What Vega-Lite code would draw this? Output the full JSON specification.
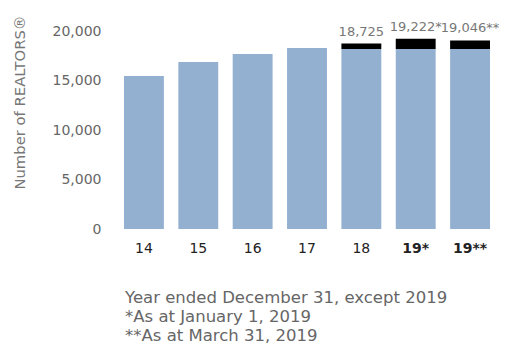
{
  "$schema": "https://vega.github.io/schema/vega-lite/v6.json",
  "autosize": "none",
  "width": 382,
  "height": 198,
  "padding": {"left": 116, "top": 31, "right": 12, "bottom": 115},
  "background": "white",
  "config": {"view": {"stroke": null}, "font": "DejaVu Sans"},
  "title": {
    "text": ["Year ended December 31, except 2019", "*As at January 1, 2019", "**As at March 31, 2019"],
    "orient": "bottom",
    "anchor": "start",
    "frame": "group",
    "dx": 9,
    "offset": 35,
    "baseline": "top",
    "font": "DejaVu Sans",
    "fontSize": 16.5,
    "fontWeight": "normal",
    "color": "#666666",
    "lineHeight": 19
  },
  "datasets": {
    "bars": [
      {"year": "14", "part": "base", "value": 15450},
      {"year": "15", "part": "base", "value": 16870},
      {"year": "16", "part": "base", "value": 17680},
      {"year": "17", "part": "base", "value": 18280},
      {"year": "18", "part": "base", "value": 18180},
      {"year": "18", "part": "extra", "value": 545},
      {"year": "19*", "part": "base", "value": 18180},
      {"year": "19*", "part": "extra", "value": 1042},
      {"year": "19**", "part": "base", "value": 18180},
      {"year": "19**", "part": "extra", "value": 866}
    ],
    "totals": [
      {"year": "18", "total": 18725, "label": "18,725"},
      {"year": "19*", "total": 19222, "label": "19,222*"},
      {"year": "19**", "total": 19046, "label": "19,046**"}
    ]
  },
  "layer": [
    {
      "data": {"name": "bars"},
      "mark": {"type": "bar"},
      "encoding": {
        "x": {
          "field": "year",
          "type": "nominal",
          "sort": ["14", "15", "16", "17", "18", "19*", "19**"],
          "scale": {"paddingInner": 0.266, "paddingOuter": 0.147},
          "axis": {
            "title": null,
            "domain": false,
            "ticks": false,
            "labelAngle": 0,
            "labelPadding": 12,
            "labelFontSize": 14,
            "labelColor": "#222222",
            "labelFont": "DejaVu Sans",
            "labelFontWeight": {"condition": {"test": "indexof(datum.label, '*') >= 0", "value": "bold"}, "value": "normal"}
          }
        },
        "y": {
          "field": "value",
          "type": "quantitative",
          "stack": "zero",
          "scale": {"domain": [0, 20000], "nice": false},
          "axis": {
            "title": "Number of REALTORS®",
            "titleAngle": -90,
            "titleX": -92,
            "titleY": 71,
            "titleAlign": "center",
            "titleBaseline": "alphabetic",
            "titleFontSize": 14.8,
            "titleFontWeight": "normal",
            "titleColor": "#777777",
            "titleFont": "DejaVu Sans",
            "values": [0, 5000, 10000, 15000, 20000],
            "format": ",.0f",
            "grid": false,
            "domain": false,
            "ticks": false,
            "labelPadding": 15,
            "labelFontSize": 14,
            "labelColor": "#666666",
            "labelFont": "DejaVu Sans"
          }
        },
        "color": {
          "field": "part",
          "type": "nominal",
          "scale": {"domain": ["base", "extra"], "range": ["#94b0d1", "#000000"]},
          "legend": null
        },
        "order": {"field": "part", "sort": "ascending"}
      }
    },
    {
      "data": {"name": "totals"},
      "mark": {"type": "text", "baseline": "bottom", "dy": -5, "fontSize": 13, "color": "#777777", "font": "DejaVu Sans"},
      "encoding": {
        "x": {"field": "year", "type": "nominal", "sort": ["14", "15", "16", "17", "18", "19*", "19**"]},
        "y": {"field": "total", "type": "quantitative"},
        "text": {"field": "label"}
      }
    }
  ]
}
